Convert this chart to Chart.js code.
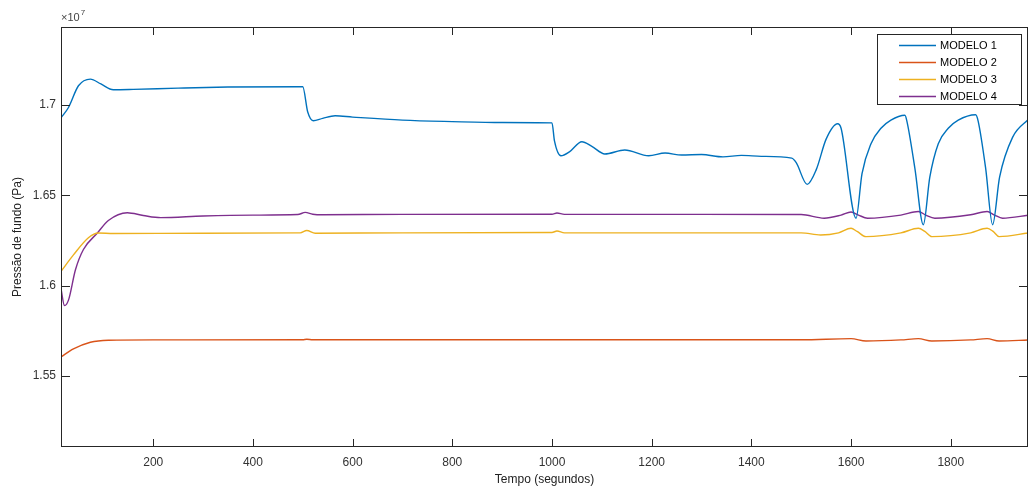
<!DOCTYPE html>
<html lang="pt">
<head>
    <meta charset="UTF-8">
    <title>Pressão de fundo</title>
    <script src="https://cdn.jsdelivr.net/npm/chart.js@4.4.0/dist/chart.umd.min.js"></script>
    <style>
        html, body { margin: 0; padding: 0; background: #fff; }
        canvas { display: block; }
    </style>
</head>
<body>
    <canvas id="grafico" width="1029" height="491"></canvas>

    <script>
        // Dados (pressão em unidades de 1e7 Pa)
        const tempo1 = [15, 30, 50, 74, 95, 120, 160, 250, 350, 495, 500, 510, 521, 540, 565, 600, 700, 800, 900, 1000,
            1005, 1018, 1035, 1060, 1080, 1106, 1146, 1194, 1227, 1260, 1300, 1343, 1380, 1420, 1481, 1490, 1512, 1530,
            1550, 1573, 1580, 1610, 1622, 1640, 1660, 1680, 1708, 1712, 1728, 1745, 1758, 1775, 1795, 1815, 1850, 1855,
            1870, 1884, 1898, 1924, 1957];
        const modelo1 = [1.6928, 1.6985, 1.7105, 1.7142, 1.7115, 1.7083, 1.7085, 1.7092, 1.7098, 1.7100, 1.7100, 1.6960,
            1.6912, 1.6925, 1.6939, 1.6932, 1.6915, 1.6907, 1.6902, 1.6900,
            1.6800, 1.6718, 1.6740, 1.6796, 1.6770, 1.6728, 1.6750, 1.6718, 1.6733, 1.6722, 1.6725, 1.6712, 1.6720,
            1.6715, 1.6705, 1.6680, 1.6560, 1.6640, 1.6810, 1.6895, 1.6870, 1.6373, 1.6620, 1.6785, 1.6870, 1.6915,
            1.6942, 1.6910, 1.6650, 1.6337, 1.6600, 1.6785, 1.6870, 1.6915, 1.6945, 1.6910, 1.6650, 1.6337, 1.6600,
            1.6820, 1.6923];

        const tempo2 = [15, 40, 74, 110, 200, 500, 508, 520, 1000, 1500, 1600, 1630, 1700, 1735, 1762, 1840, 1873, 1897, 1957];
        const modelo2 = [1.5606, 1.5650, 1.5687, 1.5698, 1.5700, 1.5701, 1.5704, 1.5701, 1.5701, 1.5701, 1.5707, 1.5694,
            1.5700, 1.5707, 1.5694, 1.5700, 1.5707, 1.5694, 1.5700];

        const tempo3 = [15, 40, 70, 90, 120, 300, 495, 508, 525, 700, 1000, 1010, 1025, 1500, 1539, 1575, 1600, 1612,
            1630, 1700, 1735, 1748, 1762, 1840, 1873, 1885, 1897, 1957];
        const modelo3 = [1.6079, 1.6170, 1.6265, 1.6291, 1.6288, 1.6290, 1.6292, 1.6305, 1.6290, 1.6292, 1.6294, 1.6302,
            1.6292, 1.6292, 1.6280, 1.6292, 1.6317, 1.6300, 1.6271, 1.6292, 1.6317, 1.6300, 1.6271, 1.6292, 1.6317,
            1.6300, 1.6271, 1.6292];

        const tempo4 = [15, 22, 30, 44, 60, 88, 110, 148, 180, 215, 300, 400, 490, 505, 520, 540, 700, 1000, 1010, 1025,
            1300, 1500, 1546, 1580, 1600, 1615, 1633, 1700, 1735, 1750, 1768, 1840, 1873, 1888, 1904, 1957];
        const modelo4 = [1.5983, 1.5890, 1.5920, 1.6088, 1.6200, 1.6291, 1.6360, 1.6403, 1.6388, 1.6376, 1.6385, 1.6390,
            1.6393, 1.6405, 1.6395, 1.6392, 1.6394, 1.6395, 1.6402, 1.6394, 1.6394, 1.6393, 1.6373, 1.6390, 1.6407,
            1.6390, 1.6373, 1.6390, 1.6410, 1.6390, 1.6373, 1.6392, 1.6410, 1.6390, 1.6373, 1.6390];

        const nomes = ['MODELO 1', 'MODELO 2', 'MODELO 3', 'MODELO 4'];
        const cores = ['#0072BD', '#D95319', '#EDB120', '#7E2F8E'];
        const ticksX = [200, 400, 600, 800, 1000, 1200, 1400, 1600, 1800];
        const ticksY = [1.55, 1.6, 1.65, 1.7];

        const series = [[tempo1, modelo1], [tempo2, modelo2], [tempo3, modelo3], [tempo4, modelo4]];
        const fonte = '"Liberation Sans", Arial, sans-serif';
        const corEixo = '#262626';

        // Moldura, marcas internas, legenda e o fator x10^7 (estilo MATLAB)
        const molduraPlugin = {
            id: 'moldura',
            afterDraw(chart) {
                const ctx = chart.ctx;
                const a = chart.chartArea;
                const sx = chart.scales.x, sy = chart.scales.y;
                ctx.save();
                ctx.strokeStyle = corEixo;
                ctx.lineWidth = 1;
                ctx.strokeRect(a.left + 0.5, a.top + 0.5, a.right - a.left - 1, a.bottom - a.top - 1);

                ctx.beginPath();
                ticksX.forEach(v => {
                    const px = Math.round(sx.getPixelForValue(v)) + 0.5;
                    ctx.moveTo(px, a.bottom); ctx.lineTo(px, a.bottom - 8);
                    ctx.moveTo(px, a.top); ctx.lineTo(px, a.top + 8);
                });
                ticksY.forEach(v => {
                    const py = Math.round(sy.getPixelForValue(v)) + 0.5;
                    ctx.moveTo(a.left, py); ctx.lineTo(a.left + 9, py);
                    ctx.moveTo(a.right, py); ctx.lineTo(a.right - 9, py);
                });
                ctx.stroke();

                // fator de escala
                ctx.fillStyle = '#444';
                ctx.textBaseline = 'alphabetic';
                ctx.textAlign = 'left';
                ctx.font = '11px ' + fonte;
                ctx.fillText('\u00d710', a.left, a.top - 6);
                const w = ctx.measureText('\u00d710').width;
                ctx.font = '8px ' + fonte;
                ctx.fillText('7', a.left + w + 1, a.top - 12);

                // legenda
                const lx = 877, ly = 34, lw = 144, lh = 70;
                ctx.fillStyle = '#fff';
                ctx.fillRect(lx, ly, lw, lh);
                ctx.strokeStyle = corEixo;
                ctx.strokeRect(lx + 0.5, ly + 0.5, lw, lh);
                ctx.font = '11px ' + fonte;
                ctx.textBaseline = 'middle';
                chart.data.datasets.forEach((ds, i) => {
                    const y = 45 + i * 17 + 0.5;
                    ctx.strokeStyle = ds.borderColor;
                    ctx.lineWidth = 1.3;
                    ctx.beginPath();
                    ctx.moveTo(899, y); ctx.lineTo(936, y);
                    ctx.stroke();
                    ctx.fillStyle = '#000';
                    ctx.fillText(ds.label, 940, y);
                });
                ctx.restore();
            }
        };

        new Chart(document.getElementById('grafico'), {
            type: 'line',
            data: {
                datasets: series.map((s, i) => ({
                    label: nomes[i],
                    data: s[0].map((t, k) => ({ x: t, y: s[1][k] })),
                    borderColor: cores[i],
                    borderWidth: 1.4,
                    pointRadius: 0,
                    fill: false,
                    cubicInterpolationMode: 'monotone'
                }))
            },
            options: {
                responsive: false,
                animation: false,
                devicePixelRatio: 1,
                layout: { padding: { top: 27, right: 1, left: 0, bottom: 0 } },
                plugins: { legend: { display: false }, tooltip: { enabled: false } },
                scales: {
                    x: {
                        type: 'linear',
                        min: 15,
                        max: 1955,
                        grid: { display: false, drawTicks: false },
                        border: { display: false },
                        afterBuildTicks: s => { s.ticks = ticksX.map(v => ({ value: v })); },
                        afterFit: s => { s.height = 44; },
                        ticks: {
                            color: '#333', padding: 8, font: { family: fonte, size: 12 }, maxRotation: 0,
                            callback: v => String(v)
                        },
                        title: {
                            display: true, text: 'Tempo (segundos)', color: '#222',
                            font: { family: fonte, size: 12 }, padding: { top: 0, bottom: 4 }
                        }
                    },
                    y: {
                        min: 1.5108,
                        max: 1.743,
                        grid: { display: false, drawTicks: false },
                        border: { display: false },
                        afterBuildTicks: s => { s.ticks = ticksY.map(v => ({ value: v })); },
                        afterFit: s => { s.width = 61; },
                        ticks: {
                            color: '#333', padding: 5, font: { family: fonte, size: 12 },
                            callback: v => String(+v.toFixed(2))
                        },
                        title: {
                            display: true, text: 'Pressão de fundo (Pa)', color: '#222',
                            font: { family: fonte, size: 12 }, padding: { top: 10, bottom: 0 }
                        }
                    }
                }
            },
            plugins: [molduraPlugin]
        });
    </script>
</body>
</html>
